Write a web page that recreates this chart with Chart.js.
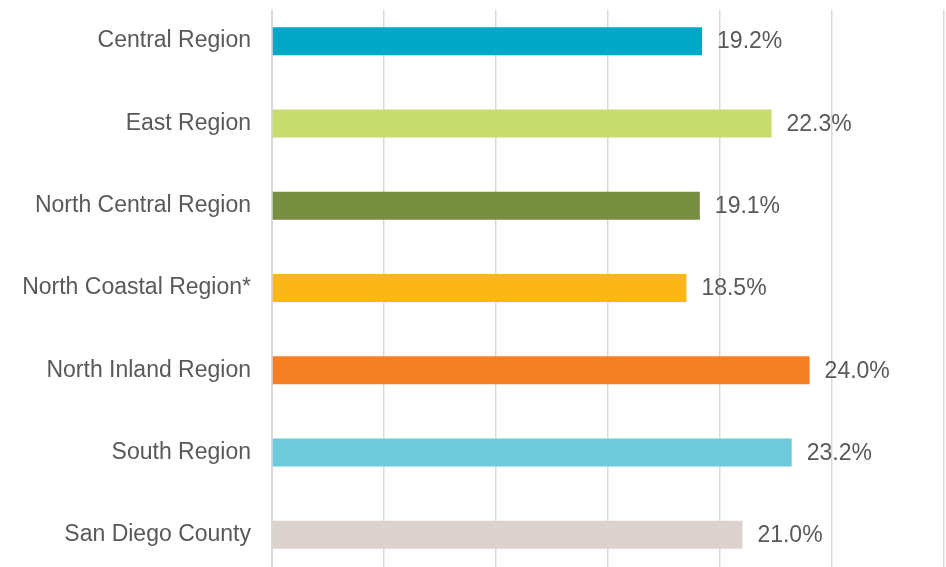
<!DOCTYPE html>
<html>
<head>
<meta charset="utf-8">
<script src="https://cdn.jsdelivr.net/npm/chart.js@4/dist/chart.umd.min.js"></script>
<style>
  html, body { margin: 0; padding: 0; background: #fff; overflow: hidden; }
  #wrap { width: 946px; height: 567px; overflow: hidden; }
  canvas { display: block; }
</style>
</head>
<body>
<div id="wrap"><canvas id="c" width="946" height="576"></canvas></div>
<script>
const categories = [
  "Central Region",
  "East Region",
  "North Central Region",
  "North Coastal Region*",
  "North Inland Region",
  "South Region",
  "San Diego County"
];
const values = [19.2, 22.3, 19.1, 18.5, 24.0, 23.2, 21.0];
const barColors = ["#00A8C5", "#C8DD6E", "#768F41", "#FBB718", "#F47F25", "#6DCADB", "#DCD3CE"];

const labelPlugin = {
  id: "valueLabels",
  beforeDatasetsDraw(chart) {
    const ctx = chart.ctx, a = chart.chartArea;
    ctx.save();
    ctx.fillStyle = "#ffffff";
    ctx.fillRect(a.left - 3, a.top - 1, a.right - a.left + 6, 11);
    ctx.restore();
  },
  afterDatasetsDraw(chart) {
    const ctx = chart.ctx;
    const meta = chart.getDatasetMeta(0);
    ctx.save();
    ctx.font = "23px 'Liberation Sans', Arial, sans-serif";
    ctx.fillStyle = "#595959";
    ctx.textAlign = "left";
    ctx.textBaseline = "middle";
    meta.data.forEach((bar, i) => {
      ctx.fillText(values[i].toFixed(1) + "%", bar.x + 15, bar.y + 1);
    });
    ctx.restore();
  }
};

new Chart(document.getElementById("c"), {
  type: "bar",
  data: {
    labels: categories,
    datasets: [{
      data: values,
      backgroundColor: barColors,
      borderWidth: 0,
      barPercentage: 0.34,
      categoryPercentage: 1.0
    }]
  },
  options: {
    indexAxis: "y",
    responsive: false,
    animation: false,
    devicePixelRatio: 1,
    layout: { padding: { top: 0, right: 2, bottom: 0, left: 0 } },
    plugins: { legend: { display: false }, tooltip: { enabled: false } },
    scales: {
      x: {
        min: 0, max: 30,
        ticks: { display: false, stepSize: 5 },
        grid: { color: "#D9D9D9", lineWidth: 1.5, drawTicks: false },
        border: { display: false },
        afterFit(s) { s.height = 0; s.paddingLeft = 0; s.paddingRight = 0; }
      },
      y: {
        offset: true,
        ticks: {
          color: "#595959",
          font: { family: "'Liberation Sans', Arial, sans-serif", size: 23 },
          padding: 21
        },
        grid: { display: false, drawTicks: false },
        border: { display: true, color: "#D9D9D9", width: 2 },
        afterFit(s) { s.width = 272; s.paddingTop = 0; s.paddingBottom = 0; }
      }
    }
  },
  plugins: [labelPlugin]
});
</script>
</body>
</html>
